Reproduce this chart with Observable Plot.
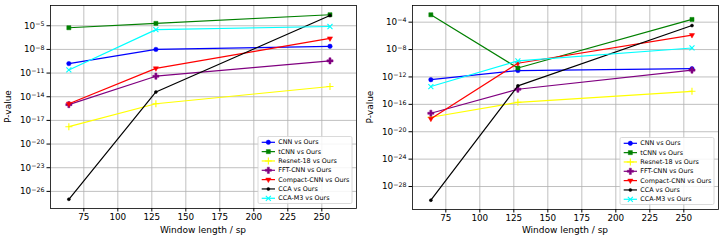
<!DOCTYPE html>
<html>
<head>
<meta charset="utf-8">
<script src="https://cdn.jsdelivr.net/npm/d3@7"></script>
<script src="https://cdn.jsdelivr.net/npm/@observablehq/plot@0.6"></script>
<style>
  body { margin: 0; background: #fff; }
  #fig { display: flex; width: 722px; height: 240px; }
  #fig svg { display: block; }
</style>
</head>
<body>
<div id="fig"></div>
<script>
// Window lengths (samples) on the x axis
const windows = [64, 128, 256];

// Comparison names, line colours and marker shapes
const seriesNames = ["CNN vs Ours", "tCNN vs Ours", "Resnet-18 vs Ours", "FFT-CNN vs Ours",
                     "Compact-CNN vs Ours", "CCA vs Ours", "CCA-M3 vs Ours"];
const seriesColors = ["blue", "green", "yellow", "purple", "red", "black", "cyan"];
const seriesMarkers = ["circle", "square", "plus", "cross", "triangleDown", "point", "times"];

// Left panel: p-values at 64 / 128 / 256 sp
const leftCNN      = [1.6e-10, 1.0e-8, 2.5e-8];
const leftTCNN     = [5.6e-6, 2.0e-5, 2.5e-4];
const leftResnet   = [1.6e-18, 1.3e-15, 2.0e-13];
const leftFFT      = [1.0e-15, 4.0e-12, 3.5e-10];
const leftCompact  = [1.3e-15, 4.0e-11, 2.5e-7];
const leftCCA      = [1.0e-27, 4.0e-14, 2.0e-4];
const leftCCAM3    = [2.5e-11, 3.2e-6, 8.0e-6];

// Right panel: p-values at 64 / 128 / 256 sp
const rightCNN     = [4.0e-13, 8.5e-12, 1.6e-11];
const rightTCNN    = [1.2e-3, 2.0e-11, 2.5e-4];
const rightResnet  = [1.3e-18, 2.0e-16, 8.0e-15];
const rightFFT     = [5.0e-18, 1.6e-14, 1.0e-11];
const rightCompact = [8.0e-19, 1.0e-10, 1.3e-6];
const rightCCA     = [1.0e-30, 5.0e-14, 3.2e-5];
const rightCCAM3   = [4.0e-14, 2.2e-10, 1.7e-8];

// Tick positions
const xTicks = [75, 100, 125, 150, 175, 200, 225, 250];
const leftExponents = [-26, -23, -20, -17, -14, -11, -8, -5];
const rightExponents = [-28, -24, -20, -16, -12, -8, -4];

const FONT = "DejaVu Sans, sans-serif";

// Marker shapes not provided by Plot's named symbols
const triangleDown = {
  draw(ctx, size) {
    const r = Math.sqrt(size / Math.PI) * 1.25;
    ctx.moveTo(0, r);
    ctx.lineTo(-r * 0.87, -r * 0.5);
    ctx.lineTo(r * 0.87, -r * 0.5);
    ctx.closePath();
  }
};
const strokeSymbols = new Set(["plus", "times"]);

function markerSpec(name) {
  if (name === "triangleDown") return {symbol: triangleDown, r: 2.4};
  if (name === "point") return {symbol: "circle", r: 1.5};
  if (name === "square") return {symbol: "square", r: 2.3};
  if (name === "cross") return {symbol: "cross", r: 2.6};
  if (name === "plus") return {symbol: "plus", r: 2.4};
  if (name === "times") return {symbol: "times", r: 2.4};
  return {symbol: "circle", r: 2.2};
}

// "10^e" labels; the exponent is raised into a superscript after rendering
function powerLabel(v) {
  return "10^" + Math.round(Math.log10(v));
}

function panel(valueSets, exponents, m) {
  const width = 361, height = 240;
  const all = valueSets.flat().map(v => Math.log10(v));
  const lo = d3.min(all), hi = d3.max(all), pad = 0.05 * (hi - lo);
  const marks = [
    Plot.gridX(xTicks, {stroke: "#b0b0b0", strokeOpacity: 1, strokeWidth: 0.8}),
    Plot.gridY(exponents.map(e => 10 ** e), {stroke: "#b0b0b0", strokeOpacity: 1, strokeWidth: 0.8})
  ];
  valueSets.forEach((vals, i) => {
    const rows = windows.map((w, j) => ({x: w, p: vals[j]}));
    const color = seriesColors[i];
    marks.push(Plot.line(rows, {x: "x", y: "p", stroke: color, strokeWidth: 1.2}));
    const spec = markerSpec(seriesMarkers[i]);
    const isStroke = strokeSymbols.has(seriesMarkers[i]);
    marks.push(Plot.dot(rows, {
      x: "x", y: "p", symbol: spec.symbol, r: spec.r,
      fill: isStroke ? "none" : color, stroke: color, strokeWidth: isStroke ? 1.1 : 0.5
    }));
  });
  marks.push(
    Plot.frame({stroke: "#000", strokeWidth: 0.8}),
    Plot.axisX({ticks: xTicks, tickSize: 3.5, tickPadding: 2, label: null}),
    Plot.axisY({ticks: exponents.map(e => 10 ** e), tickFormat: powerLabel, tickSize: 3.5, tickPadding: 2.5, label: null})
  );
  const chart = Plot.plot({
    width, height,
    marginLeft: m.left, marginRight: m.right, marginTop: m.top, marginBottom: m.bottom,
    style: {fontFamily: FONT, fontSize: "8.8px", background: "#fff", color: "#000", overflow: "visible"},
    x: {domain: [50.5, 275.5]},
    y: {type: "log", domain: [10 ** (lo - pad), 10 ** (hi + pad)]},
    marks
  });

  const svg = d3.select(chart);

  // turn "10^e" tick labels into a base with a superscript exponent
  svg.selectAll("text").each(function() {
    const t = d3.select(this);
    const s = t.text();
    const match = /^10\^(-?\d+)$/.exec(s);
    if (!match) return;
    const exp = match[1].replace("-", "\u2212");
    t.text(null);
    t.append("tspan").text("10");
    t.append("tspan").attr("dy", "-0.42em").attr("font-size", "6.3px").text(exp);
  });

  const plotLeft = m.left, plotRight = width - m.right, plotTop = m.top, plotBottom = height - m.bottom;

  // axis titles
  svg.append("text")
    .attr("x", (plotLeft + plotRight) / 2).attr("y", 233)
    .attr("text-anchor", "middle").attr("font-family", FONT).attr("font-size", 9).attr("fill", "#000")
    .text("Window length / sp");
  svg.append("text")
    .attr("transform", `translate(${m.ylabelX},${(plotTop + plotBottom) / 2}) rotate(-90)`)
    .attr("text-anchor", "middle").attr("font-family", FONT).attr("font-size", 9).attr("fill", "#000")
    .text("P-value");

  // legend in the lower-right corner of the axes
  const lw = 94, lh = 67, rowGap = 9.33;
  const lx = plotRight - 4 - lw, ly = plotBottom - 4.5 - lh;
  const g = svg.append("g").attr("transform", `translate(${lx},${ly})`).attr("text-anchor", "start");
  g.append("rect").attr("width", lw).attr("height", lh).attr("rx", 1.5)
    .attr("fill", "#fff").attr("fill-opacity", 0.85).attr("stroke", "#d0d0d0").attr("stroke-width", 0.8);
  seriesNames.forEach((name, i) => {
    const cy = 5.8 + i * rowGap;
    const color = seriesColors[i];
    g.append("line").attr("x1", 3.7).attr("x2", 17).attr("y1", cy).attr("y2", cy)
      .attr("stroke", color).attr("stroke-width", 1.2);
    const spec = markerSpec(seriesMarkers[i]);
    const isStroke = strokeSymbols.has(seriesMarkers[i]);
    const symType = typeof spec.symbol === "string"
      ? {circle: d3.symbolCircle, square: d3.symbolSquare, cross: d3.symbolCross, plus: d3.symbolPlus, times: d3.symbolTimes}[spec.symbol]
      : spec.symbol;
    g.append("path")
      .attr("transform", `translate(10.35,${cy})`)
      .attr("d", d3.symbol(symType, spec.r * spec.r * Math.PI)())
      .attr("fill", isStroke ? "none" : color).attr("stroke", color).attr("stroke-width", isStroke ? 1.1 : 0.5);
    g.append("text").attr("x", 20.3).attr("y", cy).attr("dy", "0.34em")
      .attr("text-anchor", "start")
      .attr("font-family", FONT).attr("font-size", 6.4).attr("fill", "#000")
      .text(name);
  });
  return chart;
}

const fig = document.getElementById("fig");
fig.appendChild(panel(
  [leftCNN, leftTCNN, leftResnet, leftFFT, leftCompact, leftCCA, leftCCAM3],
  leftExponents, {left: 50, right: 5, top: 5, bottom: 32, ylabelX: 11}));
fig.appendChild(panel(
  [rightCNN, rightTCNN, rightResnet, rightFFT, rightCompact, rightCCA, rightCCAM3],
  rightExponents, {left: 51, right: 4, top: 5, bottom: 31, ylabelX: 12}));
</script>
</body>
</html>
